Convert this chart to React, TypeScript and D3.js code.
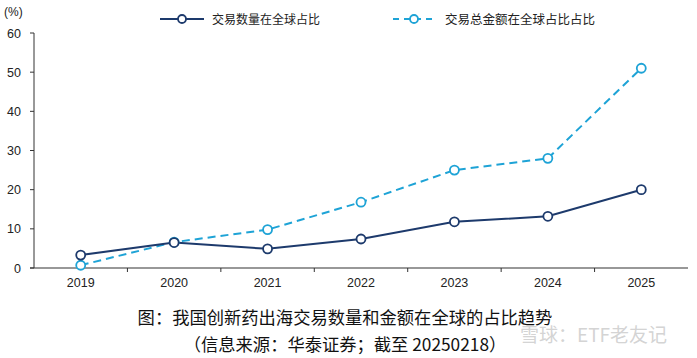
import { useEffect, useRef } from "react";
import * as d3 from "d3";

const years = ["2019", "2020", "2021", "2022", "2023", "2024", "2025"];
const countShare = [3.3, 6.5, 4.9, 7.4, 11.8, 13.2, 20.0];
const amountShare = [0.7, 6.6, 9.8, 16.8, 25.0, 28.0, 51.0];
const yTicks = [0, 10, 20, 30, 40, 50, 60];

const countName = "交易数量在全球占比";
const amountName = "交易总金额在全球占比占比";
const caption1 = "图：我国创新药出海交易数量和金额在全球的占比趋势";
const caption2 = "（信息来源：华泰证券；截至 20250218）";

const NAVY = "#1d3a6c";
const CYAN = "#1ea3d6";

export default function App() {
  const svgRef = useRef<SVGSVGElement>(null);

  useEffect(() => {
    if (!svgRef.current) return;
    const width = 697;
    const height = 358;
    const svg = d3.select(svgRef.current);
    svg.selectAll("*").remove();
    svg.attr("width", width).attr("height", height);

    svg.append("rect").attr("width", width).attr("height", height).attr("fill", "#fff");

    const left = 34;
    const right = 688;
    const top = 33;
    const bottom = 268;

    const x = d3.scaleBand<string>().domain(years).range([left, right]);
    const y = d3.scaleLinear().domain([0, 60]).range([bottom, top]);
    const cx = (d: string) => (x(d) ?? 0) + x.bandwidth() / 2;

    const font = "'Liberation Sans', Arial, sans-serif";
    const cjk = "'Noto Sans CJK SC', sans-serif";

    // y axis
    svg.append("line")
      .attr("x1", left).attr("x2", left)
      .attr("y1", top).attr("y2", bottom)
      .attr("stroke", "#333").attr("stroke-width", 1);
    yTicks.forEach((t) => {
      svg.append("line")
        .attr("x1", left - 4).attr("x2", left)
        .attr("y1", y(t)).attr("y2", y(t))
        .attr("stroke", "#333");
      svg.append("text")
        .attr("x", 21).attr("y", y(t) + 4.5)
        .attr("text-anchor", "end")
        .attr("font-family", font).attr("font-size", 12.5)
        .attr("fill", "#222")
        .text(t);
    });

    // x axis
    svg.append("line")
      .attr("x1", left - 4).attr("x2", right)
      .attr("y1", bottom).attr("y2", bottom)
      .attr("stroke", "#333").attr("stroke-width", 1.2);
    years.forEach((yr, i) => {
      if (i > 0) {
        const xt = x(yr) ?? 0;
        svg.append("line")
          .attr("x1", xt).attr("x2", xt)
          .attr("y1", bottom).attr("y2", bottom + 4)
          .attr("stroke", "#333");
      }
      svg.append("text")
        .attr("x", cx(yr)).attr("y", bottom + 19)
        .attr("text-anchor", "middle")
        .attr("font-family", font).attr("font-size", 12.5)
        .attr("fill", "#222")
        .text(yr);
    });

    svg.append("text")
      .attr("x", 4).attr("y", 16)
      .attr("font-family", font).attr("font-size", 12)
      .attr("fill", "#222")
      .text("(%)");

    const line = d3.line<number>()
      .x((_, i) => cx(years[i]))
      .y((d) => y(d));

    // amount (dashed)
    svg.append("path")
      .datum(amountShare)
      .attr("fill", "none")
      .attr("stroke", CYAN)
      .attr("stroke-width", 2)
      .attr("stroke-dasharray", "8,5")
      .attr("d", line);

    // count (solid)
    svg.append("path")
      .datum(countShare)
      .attr("fill", "none")
      .attr("stroke", NAVY)
      .attr("stroke-width", 2)
      .attr("d", line);

    svg.selectAll(".pa")
      .data(amountShare)
      .enter()
      .append("circle")
      .attr("cx", (_, i) => cx(years[i]))
      .attr("cy", (d) => y(d))
      .attr("r", 4.5)
      .attr("fill", "#fff")
      .attr("stroke", CYAN)
      .attr("stroke-width", 1.8);

    svg.selectAll(".pc")
      .data(countShare)
      .enter()
      .append("circle")
      .attr("cx", (_, i) => cx(years[i]))
      .attr("cy", (d) => y(d))
      .attr("r", 4.5)
      .attr("fill", "#fff")
      .attr("stroke", NAVY)
      .attr("stroke-width", 1.8);

    // legend
    const ly = 19;
    svg.append("line")
      .attr("x1", 160).attr("x2", 204).attr("y1", ly).attr("y2", ly)
      .attr("stroke", NAVY).attr("stroke-width", 2);
    svg.append("circle")
      .attr("cx", 182).attr("cy", ly).attr("r", 4)
      .attr("fill", "#fff").attr("stroke", NAVY).attr("stroke-width", 1.8);
    svg.append("text")
      .attr("x", 212).attr("y", ly + 4.5)
      .attr("font-family", cjk).attr("font-size", 12)
      .attr("fill", "#222")
      .text(countName);

    svg.append("line")
      .attr("x1", 393).attr("x2", 437).attr("y1", ly).attr("y2", ly)
      .attr("stroke", CYAN).attr("stroke-width", 2)
      .attr("stroke-dasharray", "6,5");
    svg.append("circle")
      .attr("cx", 414).attr("cy", ly).attr("r", 4)
      .attr("fill", "#fff").attr("stroke", CYAN).attr("stroke-width", 1.8);
    svg.append("text")
      .attr("x", 445).attr("y", ly + 4.5)
      .attr("font-family", cjk).attr("font-size", 12.5)
      .attr("fill", "#222")
      .text(amountName);

    // captions
    svg.append("text")
      .attr("x", 345).attr("y", 324)
      .attr("text-anchor", "middle")
      .attr("font-family", cjk).attr("font-size", 17.3)
      .attr("fill", "#111")
      .text(caption1);
    svg.append("text")
      .attr("x", 345).attr("y", 351)
      .attr("text-anchor", "middle")
      .attr("font-family", cjk).attr("font-size", 17.3)
      .attr("fill", "#111")
      .text(caption2);

    // watermark
    svg.append("text")
      .attr("x", 520).attr("y", 342)
      .attr("font-family", cjk).attr("font-size", 19)
      .attr("fill", "#c8c8c8")
      .attr("fill-opacity", 0.8)
      .text("雪球：ETF老友记");
  }, []);

  return (
    <div style={{ position: "absolute", left: 0, top: 0 }}>
      <svg ref={svgRef} style={{ display: "block" }} />
    </div>
  );
}
